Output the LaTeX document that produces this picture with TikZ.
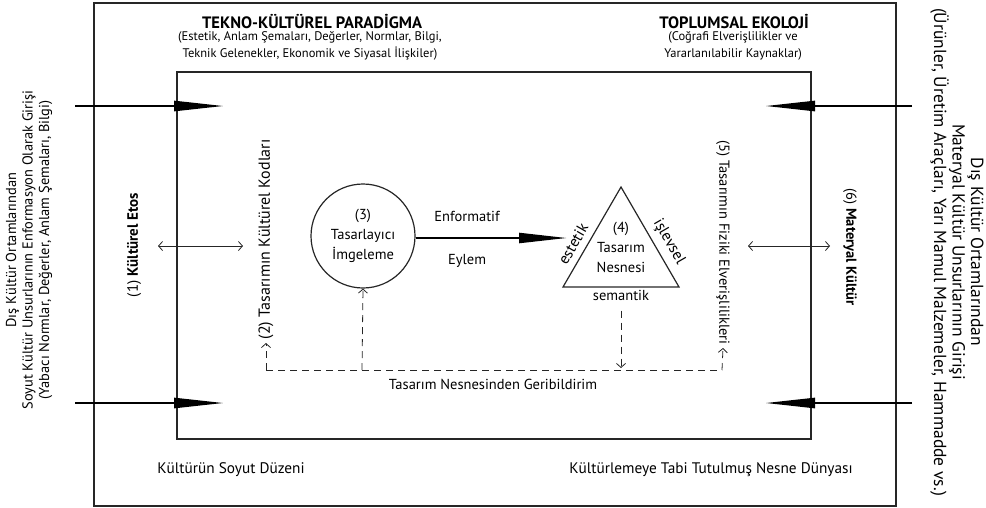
\documentclass[tikz,border=0pt]{standalone}
\usepackage{fontspec}
\setmainfont{PT Sans}
\usetikzlibrary{arrows.meta, positioning, calc}

\begin{document}
\begin{tikzpicture}[x=1pt, y=-1pt, font=\fontsize{14.5}{17}\selectfont,
    frame/.style={draw=black!85, line width=1.2pt},
    inflow/.style={black, line width=2.6pt, -{Triangle[length=50pt, width=10pt]}},
    flow/.style={black, line width=2.2pt, -{Triangle[length=48pt, width=10pt]}},
    link/.style={black!85, line width=0.8pt, {Straight Barb[length=4pt, width=9pt]}-{Straight Barb[length=4pt, width=9pt]}},
    feedback/.style={black!85, line width=0.8pt, dash pattern=on 7pt off 5pt},
    barb/.style={-{Straight Barb[length=4pt, width=9pt]}},
    head/.style={font=\fontsize{16.5}{18}\selectfont\bfseries},
    note/.style={font=\fontsize{12.5}{16.5}\selectfont, align=center, inner sep=1pt},
    side/.style={align=center, font=\fontsize{14.5}{17}\selectfont},
    inside/.style={align=center, font=\fontsize{14.5}{20}\selectfont},
    edge text/.style={font=\fontsize{15.5}{17}\selectfont, inner sep=0pt},
]
\useasboundingbox (0,0) rectangle (986,507);

% frames
\draw[frame] (94,3) rectangle (896,506);
\draw[frame] (177,72) rectangle (811,439);

% titles
\node[head] (tekno) at (312,22) {TEKNO-KÜLTÜREL PARADİGMA};
\node[note] (teknoalt) at (310,46) {(Estetik, Anlam Şemaları, Değerler, Normlar, Bilgi,\\Teknik Gelenekler, Ekonomik ve Siyasal İlişkiler)};
\node[head] (ekoloji) at (734,22) {TOPLUMSAL EKOLOJİ};
\node[note] (ekolojialt) at (733,46) {(Coğrafi Elverişlilikler ve\\Yararlanılabilir Kaynaklar)};

% outside inputs
\node[side, font=\fontsize{14.4}{16.5}\selectfont, rotate=90] (soyutgiris) at (29,250) {Dış Kültür Ortamlarından\\Soyut Kültür Unsurlarının Enformasyon Olarak Girişi\\(Yabacı Normlar, Değerler, Anlam Şemaları, Bilgi)};
\node[side, font=\fontsize{17.5}{18.5}\selectfont, rotate=-90] (materyalgiris) at (957,252) {Dış Kültür Ortamlarından\\Materyal Kültür Unsurlarının Girişi\\(Ürünler, Üretim Araçları, Yarı Mamul Malzemeler, Hammadde vs.)};

\coordinate (inL1) at (75,106);   \coordinate (tipL1) at (224,106);
\coordinate (inL2) at (75,403);   \coordinate (tipL2) at (224,403);
\coordinate (inR1) at (912,106);  \coordinate (tipR1) at (765,106);
\coordinate (inR2) at (912,403);  \coordinate (tipR2) at (765,403);
\draw[inflow] (inL1) -- (tipL1);
\draw[inflow] (inL2) -- (tipL2);
\draw[inflow] (inR1) -- (tipR1);
\draw[inflow] (inR2) -- (tipR2);

% side labels
\node[side, font=\fontsize{15}{17}\selectfont, rotate=90] (etos) at (134,245) {(1) \textbf{Kültürel Etos}};
\node[side, rotate=-90] (materyal) at (850,247) {(6) \textbf{Materyal Kültür}};
\node[side, font=\fontsize{16}{17}\selectfont, rotate=90, anchor=west] (kod) at (266,343) {(2) Tasarımın Kültürel Kodları};
\node[side, rotate=-90, anchor=east] (fiziki) at (723,348) {(5) Tasarımın Fiziki Elverişlilikleri};

\coordinate (etosA) at (158,246); \coordinate (etosB) at (243,246);
\coordinate (matA) at (748,246);  \coordinate (matB) at (830,246);
\draw[link] (etosA) -- (etosB);
\draw[link] (matA) -- (matB);

% imagination and object
\node[circle, draw=black!85, line width=1.2pt, minimum size=104pt, inner sep=0pt, inside] (imge) at (363,236) {(3)\\Tasarlayıcı\\İmgeleme};

\coordinate (apex) at (621,187);
\coordinate (bl) at (563,287);
\coordinate (br) at (679,287);
\draw[black!85, line width=1.2pt] (apex) -- (bl) -- (br) -- cycle;
\node[edge text, rotate=60] (estetik) at (573,244) {estetik};
\node[edge text, rotate=-60] (islevsel) at (669,242) {işlevsel};
\node[below=0pt of $(bl)!0.5!(br)$] (sem) {semantik};
\node[inside] (nesne) at (621,247) {(4)\\Tasarım\\Nesnesi};

\coordinate (enf) at (567,238);
\draw[flow] (imge.east |- enf) -- (enf)
  node[pos=0.34, above=12pt] (enfor) {Enformatif}
  node[pos=0.34, below=12pt] (eylem) {Eylem};

% feedback
\coordinate (fbL) at (266,370); \coordinate (fbR) at (722,370);
\coordinate (fbC) at (362,370); \coordinate (fbT) at (621,368);
\draw[feedback] (fbL) -- (fbR);
\draw[feedback, barb] (fbL) -- (kod.west);
\draw[feedback, barb] (fbR) -- (fiziki.east);
\draw[feedback, barb] (fbC) -- (imge.south);
\draw[feedback, barb, shorten <=6pt] (sem.south) -- (fbT);
\node (geri) at (493,384) {Tasarım Nesnesinden Geribildirim};

% bottom
\node[font=\fontsize{15.3}{17}\selectfont] (soyut) at (231,470) {Kültürün Soyut Düzeni};
\node[font=\fontsize{15.3}{17}\selectfont] (nesnedunya) at (711,470) {Kültürlemeye Tabi Tutulmuş Nesne Dünyası};
\end{tikzpicture}
\end{document}
